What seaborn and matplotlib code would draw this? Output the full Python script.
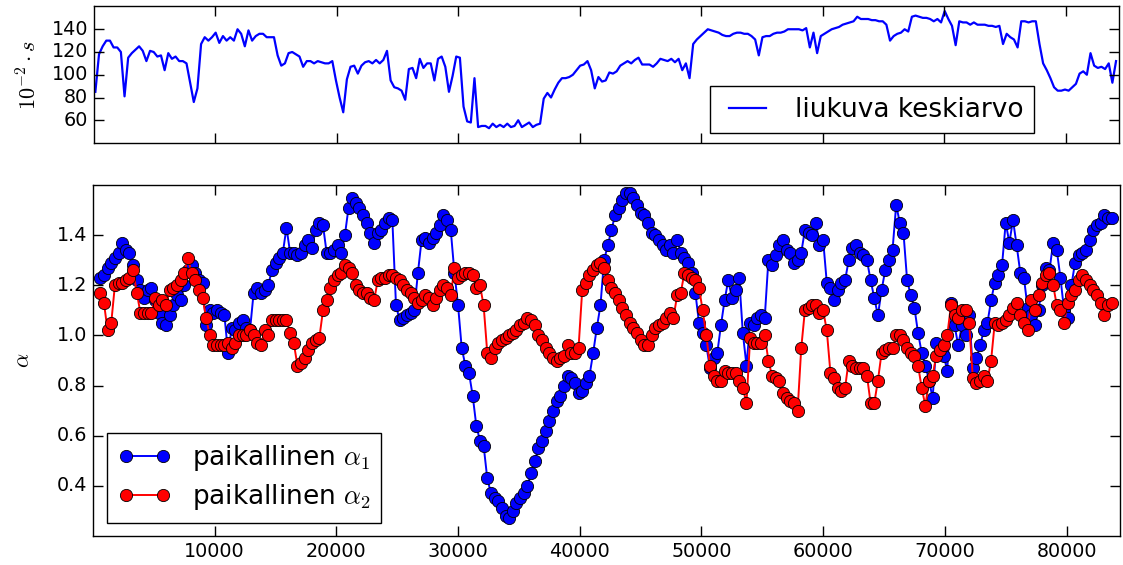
import numpy as np
import matplotlib
matplotlib.use("Agg")
import matplotlib.pyplot as plt
import seaborn as sns

plt.style.use("classic")
plt.rcParams["font.family"] = ["DejaVu Sans"]
plt.rcParams["mathtext.fontset"] = "cm"

# ---------------- data ----------------
# moving average, sampled every 300 units starting at x = 150
avg_start, avg_step = 150, 300
avg_values = [
    85, 118, 125, 130, 130, 124, 124, 120, 81, 115,
    119, 122, 125, 121, 112, 121, 120, 116, 117, 104,
    119, 114, 116, 112, 112, 110, 93, 76, 88, 127,
    133, 130, 133, 137, 128, 134, 130, 133, 130, 140,
    136, 125, 139, 130, 134, 136, 136, 133, 133, 133,
    117, 108, 110, 119, 120, 118, 116, 107, 112, 112,
    110, 112, 111, 110, 110, 112, 95, 80, 67, 96,
    107, 108, 101, 108, 111, 112, 110, 113, 110, 113,
    121, 95, 89, 88, 86, 78, 105, 106, 97, 114,
    106, 110, 110, 95, 114, 116, 107, 85, 99, 116,
    115, 72, 59, 58, 97, 54, 55, 55, 53, 57,
    54, 56, 54, 57, 54, 55, 60, 54, 56, 58,
    54, 56, 57, 79, 84, 80, 87, 93, 97, 97,
    98, 100, 104, 108, 109, 112, 104, 88, 98, 94,
    95, 102, 101, 103, 108, 110, 112, 110, 113, 115,
    109, 109, 109, 107, 110, 114, 113, 112, 114, 111,
    114, 104, 110, 97, 127, 131, 134, 137, 140, 139,
    138, 137, 135, 134, 134, 136, 137, 137, 136, 136,
    134, 131, 117, 133, 134, 134, 136, 137, 137, 138,
    140, 140, 140, 140, 139, 141, 124, 137, 119, 134,
    136, 138, 140, 141, 142, 144, 145, 146, 147, 151,
    149, 149, 149, 148, 148, 147, 147, 144, 130, 134,
    136, 137, 140, 138, 151, 152, 151, 150, 150, 149,
    147, 149, 146, 156, 149, 143, 126, 147, 146, 146,
    144, 146, 144, 144, 144, 143, 143, 142, 143, 127,
    136, 133, 131, 124, 147, 147, 146, 147, 147, 127,
    110, 104, 97, 89, 86, 86, 87, 86, 89, 92,
    101, 103, 100, 119, 108, 106, 107, 105, 110, 93,
    112,
]

# local alpha values, sampled every 300 units starting at x = 600
alpha_start, alpha_step = 600, 300
alpha1_values = [
    1.23, 1.24, 1.27, 1.29, 1.31, 1.33, 1.37, 1.34, 1.33, 1.28,
    1.22, 1.18, 1.15, 1.18, 1.19, 1.14, 1.09, 1.05, 1.04, 1.08,
    1.12, 1.16, 1.14, 1.20, 1.26, 1.28, 1.25, 1.22, 1.21, 1.04,
    1.10, 1.09, 1.10, 1.09, 1.08, 0.93, 1.03, 1.02, 1.05, 1.06,
    1.03, 1.02, 1.17, 1.19, 1.17, 1.18, 1.20, 1.26, 1.29, 1.31,
    1.33, 1.43, 1.33, 1.33, 1.32, 1.33, 1.36, 1.38, 1.35, 1.42,
    1.45, 1.44, 1.33, 1.33, 1.34, 1.36, 1.33, 1.40, 1.51, 1.55,
    1.53, 1.51, 1.48, 1.45, 1.41, 1.37, 1.41, 1.42, 1.45, 1.47,
    1.46, 1.12, 1.06, 1.07, 1.08, 1.09, 1.10, 1.25, 1.38, 1.39,
    1.37, 1.39, 1.41, 1.44, 1.48, 1.46, 1.42, 1.25, 1.12, 0.95,
    0.88, 0.85, 0.76, 0.64, 0.58, 0.56, 0.43, 0.37, 0.35, 0.34,
    0.31, 0.28, 0.27, 0.30, 0.33, 0.35, 0.37, 0.40, 0.45, 0.50,
    0.55, 0.58, 0.62, 0.66, 0.70, 0.74, 0.76, 0.80, 0.84, 0.83,
    0.81, 0.77, 0.78, 0.81, 0.84, 0.93, 1.03, 1.12, 1.30, 1.36,
    1.42, 1.48, 1.51, 1.54, 1.57, 1.57, 1.55, 1.52, 1.49, 1.48,
    1.45, 1.41, 1.40, 1.38, 1.36, 1.34, 1.36, 1.33, 1.38, 1.33,
    1.31, 1.29, 1.25, 1.17, 1.05, 1.01, 0.96, 0.87, 0.91, 0.93,
    1.04, 1.14, 1.22, 1.15, 1.18, 1.23, 1.01, 0.88, 1.05, 1.04,
    1.07, 1.08, 1.07, 1.30, 1.28, 1.32, 1.36, 1.38, 1.34, 1.33,
    1.29, 1.30, 1.33, 1.42, 1.41, 1.40, 1.45, 1.36, 1.38, 1.21,
    1.19, 1.14, 1.18, 1.21, 1.22, 1.30, 1.35, 1.36, 1.33, 1.32,
    1.30, 1.22, 1.15, 1.08, 1.18, 1.26, 1.30, 1.34, 1.52, 1.45,
    1.41, 1.22, 1.16, 1.11, 1.01, 0.93, 0.88, 0.82, 0.75, 0.97,
    0.93, 0.92, 0.86, 1.13, 1.04, 0.96, 1.04, 1.00, 1.08, 0.87,
    0.91, 0.96, 1.02, 1.05, 1.14, 1.21, 1.24, 1.28, 1.45, 1.37,
    1.46, 1.36, 1.25, 1.23, 1.11, 1.08, 1.04, 1.10, 1.20, 1.27,
    1.26, 1.37, 1.34, 1.23, 1.10, 1.07, 1.20, 1.29, 1.32, 1.33,
    1.34, 1.38, 1.42, 1.44, 1.45, 1.48, 1.47, 1.47,
]
alpha2_values = [
    1.17, 1.13, 1.02, 1.05, 1.20, 1.21, 1.21, 1.22, 1.23, 1.26,
    1.17, 1.09, 1.09, 1.09, 1.09, 1.15, 1.12, 1.14, 1.12, 1.18,
    1.19, 1.20, 1.22, 1.25, 1.31, 1.25, 1.22, 1.18, 1.15, 1.07,
    1.00, 0.96, 0.96, 0.96, 0.96, 0.97, 0.95, 0.97, 1.00, 1.00,
    1.00, 1.02, 1.00, 0.97, 0.96, 1.02, 1.00, 1.06, 1.06, 1.06,
    1.06, 1.06, 1.01, 0.97, 0.88, 0.89, 0.91, 0.94, 0.97, 0.98,
    0.99, 1.10, 1.14, 1.19, 1.22, 1.24, 1.25, 1.28, 1.27, 1.25,
    1.20, 1.18, 1.17, 1.17, 1.15, 1.14, 1.22, 1.23, 1.23, 1.24,
    1.24, 1.23, 1.22, 1.20, 1.18, 1.17, 1.15, 1.13, 1.14, 1.16,
    1.15, 1.12, 1.15, 1.18, 1.20, 1.19, 1.16, 1.27, 1.23, 1.24,
    1.25, 1.25, 1.24, 1.19, 1.20, 1.12, 0.93, 0.91, 0.95, 0.97,
    0.98, 0.99, 1.00, 1.01, 1.02, 1.04, 1.05, 1.07, 1.06, 1.04,
    1.00, 0.98, 0.95, 0.93, 0.91, 0.90, 0.91, 0.92, 0.96, 0.93,
    0.93, 0.95, 1.18, 1.21, 1.24, 1.26, 1.28, 1.29, 1.27, 1.22,
    1.19, 1.17, 1.14, 1.11, 1.08, 1.05, 1.03, 1.01, 0.98, 0.96,
    0.96, 1.00, 1.03, 1.04, 1.05, 1.07, 1.09, 1.07, 1.16, 1.17,
    1.25, 1.24, 1.23, 1.22, 1.19, 1.10, 1.00, 0.88, 0.84, 0.82,
    0.82, 0.86, 0.85, 0.85, 0.85, 0.82, 0.79, 0.73, 0.99, 0.97,
    0.97, 0.97, 1.00, 0.90, 0.84, 0.83, 0.82, 0.77, 0.75, 0.74,
    0.73, 0.70, 0.95, 1.10, 1.11, 1.12, 1.12, 1.09, 1.10, 1.02,
    0.85, 0.83, 0.79, 0.78, 0.79, 0.90, 0.88, 0.87, 0.87, 0.87,
    0.84, 0.73, 0.73, 0.82, 0.93, 0.94, 0.95, 0.95, 1.00, 1.00,
    0.98, 0.95, 0.93, 0.92, 0.88, 0.79, 0.72, 0.82, 0.84, 0.92,
    0.94, 0.96, 1.00, 1.12, 1.08, 1.07, 1.10, 1.10, 1.05, 0.83,
    0.81, 0.82, 0.84, 0.82, 0.90, 1.05, 1.04, 1.05, 1.06, 1.08,
    1.11, 1.13, 1.08, 1.05, 1.02, 1.14, 1.10, 1.16, 1.21, 1.24,
    1.25, 1.20, 1.12, 1.10, 1.05, 1.13, 1.16, 1.18, 1.22, 1.24,
    1.22, 1.20, 1.18, 1.16, 1.13, 1.08, 1.12, 1.13,
]

x_ticks = [10000, 20000, 30000, 40000, 50000, 60000, 70000, 80000]
avg_yticks = [60, 80, 100, 120, 140]
alpha_yticks = [0.4, 0.6, 0.8, 1.0, 1.2, 1.4]

avg_label = "liukuva keskiarvo"
alpha1_label = r"paikallinen $\alpha_1$"
alpha2_label = r"paikallinen $\alpha_2$"

avg_x = avg_start + avg_step * np.arange(len(avg_values))
alpha_x = alpha_start + alpha_step * np.arange(len(alpha1_values))

# ---------------- figure ----------------
fig = plt.figure(figsize=(11.23, 5.65), dpi=100)
ax1 = fig.add_axes([0.0833, 0.7469, 0.9132, 0.2416])
ax2 = fig.add_axes([0.0828, 0.0513, 0.9146, 0.6212])

TICK_FS = 13.8
LEG_FS = 19

sns.lineplot(x=avg_x, y=avg_values, ax=ax1, color="b", linewidth=1.6,
             label=avg_label, legend=False)
ax1.set_xlim(0, 84400)
ax1.set_ylim(40, 160)
ax1.set_xticks(x_ticks)
ax1.set_yticks(avg_yticks)
ax1.tick_params(labelbottom=False, labelsize=TICK_FS, length=7, width=1)
ax1.set_ylabel(r"$10^{-2}\cdot s$", fontsize=16)
ax1.yaxis.set_label_coords(-0.052, 0.5)
ax1.legend(loc="lower right", bbox_to_anchor=(0.917, 0.07), borderaxespad=0,
           fontsize=LEG_FS, numpoints=2, handlelength=2, handletextpad=0.8)

marker_kw = dict(marker="o", markersize=8.8, markeredgecolor="k",
                 markeredgewidth=0.6, linewidth=1.4)
sns.lineplot(x=alpha_x, y=alpha1_values, ax=ax2, color="b",
             markerfacecolor="b", label=alpha1_label, legend=False, **marker_kw)
sns.lineplot(x=alpha_x, y=alpha2_values, ax=ax2, color="r",
             markerfacecolor="r", label=alpha2_label, legend=False, **marker_kw)
ax2.set_xlim(0, 84400)
ax2.set_ylim(0.2, 1.6)
ax2.set_xticks(x_ticks)
ax2.set_yticks(alpha_yticks)
ax2.set_yticklabels([f"{v:.1f}" for v in alpha_yticks])
ax2.set_xticklabels([str(v) for v in x_ticks])
ax2.tick_params(labelsize=TICK_FS, length=7, width=1)
ax2.set_ylabel(r"$\alpha$", fontsize=16)
ax2.yaxis.set_label_coords(-0.058, 0.5)
ax2.legend(loc="lower left", bbox_to_anchor=(0.014, 0.037), borderaxespad=0,
           fontsize=LEG_FS, numpoints=2, handlelength=2, handletextpad=0.8,
           labelspacing=0.35)

fig.savefig("out.png", dpi=100)
